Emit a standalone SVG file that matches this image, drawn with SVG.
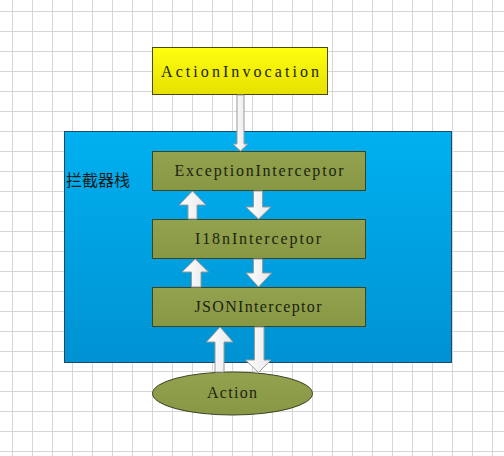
<svg xmlns="http://www.w3.org/2000/svg" width="504" height="456" viewBox="0 0 504 456">
<defs>
<pattern id="grid" width="20" height="20" patternUnits="userSpaceOnUse" x="12" y="11"><path d="M0.5 0V20M0 0.5H20" stroke="#d6d6d6" stroke-width="1" fill="none"/></pattern>
<linearGradient id="blue" x1="0" y1="0" x2="0" y2="1"><stop offset="0" stop-color="#00b0f0"/><stop offset="1" stop-color="#0092d2"/></linearGradient>
<linearGradient id="yellow" x1="0" y1="0" x2="0" y2="1"><stop offset="0" stop-color="#ffff10"/><stop offset="1" stop-color="#e6e000"/></linearGradient>
<linearGradient id="green" x1="0" y1="0" x2="0" y2="1"><stop offset="0" stop-color="#93a24e"/><stop offset="1" stop-color="#879744"/></linearGradient>
<linearGradient id="arrow" x1="0" y1="0" x2="1" y2="0"><stop offset="0" stop-color="#ffffff"/><stop offset="1" stop-color="#e8e8e8"/></linearGradient>
</defs>
<style>
.box{fill:url(#green);stroke:#3b4424;stroke-width:1}
.lbl{font-family:"Liberation Serif","Times New Roman",serif;font-size:16px;fill:#1c2410;text-anchor:middle}
.arr{fill:url(#arrow);stroke:#9a9a9a;stroke-width:1;stroke-linejoin:miter}
</style>
<rect width="504" height="456" fill="#ffffff"/>
<rect width="504" height="456" fill="url(#grid)"/>
<g id="stack">
<rect x="64.5" y="131.5" width="387" height="231" fill="url(#blue)" stroke="#1d4a6a" stroke-width="1"/>
<text x="66" y="186" font-family="'Noto Sans CJK SC',sans-serif" font-size="16" fill="#1a1a1a">拦截器栈</text>
</g>
<g id="invocation">
<rect x="152.5" y="47.5" width="175" height="47" fill="url(#yellow)" stroke="#4a4a10" stroke-width="1"/>
<text x="240" y="77" class="lbl" font-size="18" textLength="158" lengthAdjust="spacing">ActionInvocation</text>
</g>
<g id="exception">
<rect class="box" x="152.5" y="151.5" width="213" height="39"/>
<text x="259" y="176" class="lbl" textLength="169" lengthAdjust="spacing">ExceptionInterceptor</text>
</g>
<g id="i18n">
<rect class="box" x="152.5" y="219.5" width="213" height="39"/>
<text x="258" y="244" class="lbl" textLength="126" lengthAdjust="spacing">I18nInterceptor</text>
</g>
<g id="json">
<rect class="box" x="152.5" y="287.5" width="213" height="39"/>
<text x="258" y="312" class="lbl" textLength="127" lengthAdjust="spacing">JSONInterceptor</text>
</g>
<g id="action">
<ellipse cx="232.5" cy="393.5" rx="80" ry="21.5" class="box"/>
<text x="232" y="398" class="lbl" textLength="50" lengthAdjust="spacing">Action</text>
</g>
<g id="connectors">
<polygon class="arr" points="237,95 244,95 244,144 248,144 240.5,151 233,144 237,144"/>
<polygon class="arr" points="188,219 197,219 197,205 206,205 192.5,191 179,205 188,205"/>
<polygon class="arr" points="253.5,191 262.5,191 262.5,207 271,207 258.5,219 246,207 253.5,207"/>
<polygon class="arr" points="191.5,287 201,287 201,272 208.5,272 195.25,259 182,272 191.5,272"/>
<polygon class="arr" points="253.5,259 262.5,259 262.5,273 271.5,273 258.5,287 246,273 253.5,273"/>
<polygon class="arr" points="215,372 224,372 224,342 233,342 220,327 206.5,342 215,342"/>
<polygon class="arr" points="254.5,327 264,327 264,360 271,360 258.5,372.5 245.5,360 254.5,360"/>
</g>
</svg>
